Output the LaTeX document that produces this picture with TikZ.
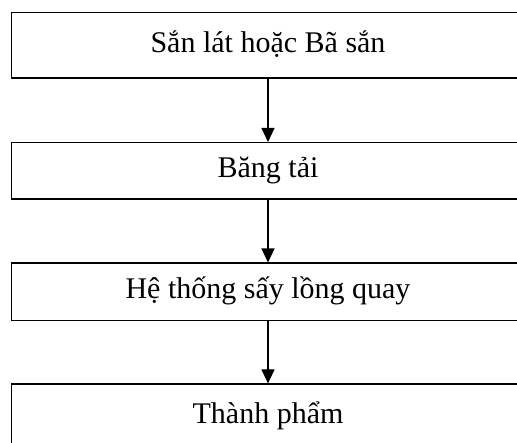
\documentclass[tikz,border=0pt]{standalone}
\usepackage{fontspec}
\setmainfont{Liberation Serif}
\usetikzlibrary{arrows.meta}
\tikzset{
  stage/.style={draw=black, line width=1.2pt, rectangle, minimum width=513pt, inner sep=0pt,
    font=\fontsize{30}{34}\selectfont, text height=21pt, text depth=7.5pt},
  flow/.style={draw=black, line width=1.2pt, -{Triangle[width=13pt,length=14pt]}}
}
\begin{document}
\begin{tikzpicture}[x=1pt,y=1pt]
\path[use as bounding box, clip] (0,0) rectangle (517,-443);
\fill[white] (0,0) rectangle (517,-443);
\node[stage, minimum height=65.5pt] (s1) at (268,-45.3) {Sắn lát hoặc Bã sắn};
\node[stage, minimum height=56.5pt] (s2) at (268,-170.8) {Băng tải};
\node[stage, minimum height=57.5pt] (s3) at (268,-291.8) {Hệ thống sấy lồng quay};
\node[stage, minimum height=65.4pt] (s4) at (268,-416.7) {Thành phẩm};
\draw[flow] (s1.south) -- (s2.north);
\draw[flow] (s2.south) -- (s3.north);
\draw[flow] (s3.south) -- (s4.north);
\end{tikzpicture}
\end{document}
